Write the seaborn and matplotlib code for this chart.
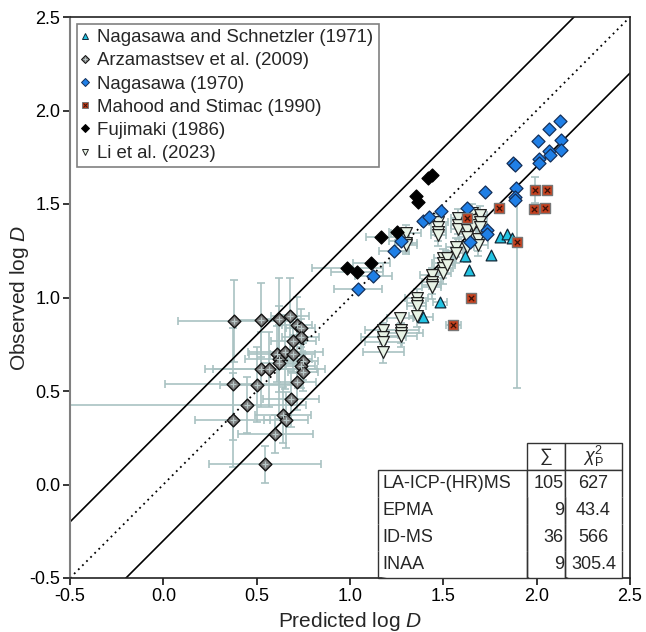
import numpy as np
import pandas as pd
import matplotlib
matplotlib.use('Agg')
import matplotlib.pyplot as plt
import seaborn as sns
from matplotlib.lines import Line2D

# ---------------- data ----------------
# Nagasawa and Schnetzler (1971)
ns_x = [1.803, 1.839, 1.867, 1.616, 1.755, 1.639, 1.482, 1.392]
ns_y = [1.322, 1.340, 1.317, 1.222, 1.227, 1.147, 0.976, 0.897]
ns_xerr = [0.0, 0.0, 0.0, 0.0, 0.0, 0.0, 0.04, 0.05]

# Arzamastsev et al. (2009)
az_x = [0.378, 0.521, 0.618, 0.678, 0.714, 0.735, 0.735, 0.696, 0.610, 0.653,
        0.693, 0.618, 0.621, 0.750, 0.735, 0.750, 0.521, 0.564, 0.371, 0.503,
        0.717, 0.685, 0.446, 0.371, 0.643, 0.657, 0.600, 0.544]
az_y = [0.876, 0.880, 0.885, 0.903, 0.851, 0.837, 0.787, 0.765, 0.698, 0.709,
        0.698, 0.673, 0.652, 0.659, 0.634, 0.602, 0.616, 0.616, 0.537, 0.534,
        0.548, 0.459, 0.423, 0.345, 0.373, 0.345, 0.270, 0.108]
az_xerr_lo = [0.30, 0.13, 0.10, 0.10, 0.08, 0.08, 0.10, 0.12, 0.15, 0.20,
              0.12, 0.18, 0.10, 0.08, 0.08, 0.08, 0.30, 0.30, 0.36, 0.20,
              0.10, 0.15, 1.20, 0.20, 0.15, 0.12, 0.20, 0.30]
az_xerr_hi = [0.30, 0.13, 0.10, 0.10, 0.08, 0.08, 0.10, 0.12, 0.15, 0.20,
              0.12, 0.18, 0.10, 0.08, 0.08, 0.08, 0.30, 0.30, 0.36, 0.20,
              0.10, 0.15, 0.32, 0.20, 0.15, 0.12, 0.20, 0.30]
az_yerr = [0.22, 0.20, 0.22, 0.20, 0.15, 0.10, 0.10, 0.12, 0.15, 0.20,
           0.10, 0.18, 0.30, 0.10, 0.12, 0.10, 0.20, 0.20, 0.30, 0.20,
           0.15, 0.15, 0.15, 0.25, 0.15, 0.15, 0.10, 0.10]

# Nagasawa (1970)
n70_x = [1.044, 1.125, 1.235, 1.271, 1.389, 1.424, 1.489, 1.625, 1.642, 1.724,
         1.732, 1.736, 1.875, 1.884, 1.890, 1.884, 1.884, 2.011, 2.011, 2.008,
         2.066, 2.125, 2.130, 2.130, 2.068, 2.071]
n70_y = [1.044, 1.117, 1.250, 1.300, 1.407, 1.432, 1.462, 1.480, 1.295, 1.563,
         1.363, 1.340, 1.721, 1.709, 1.587, 1.539, 1.521, 1.741, 1.718, 1.835,
         1.903, 1.945, 1.842, 1.789, 1.785, 1.762]
n70_xerr = [0.13, 0.10, 0.08, 0.06, 0.0, 0.0, 0.0, 0.0, 0.0, 0.0,
            0.0, 0.0, 0.0, 0.0, 0.0, 0.0, 0.0, 0.0, 0.0, 0.0,
            0.0, 0.0, 0.0, 0.0, 0.0, 0.0]

# Mahood and Stimac (1990)
ms_x = [1.991, 2.053, 1.985, 2.046, 1.800, 1.625, 1.893, 1.648, 1.553]
ms_y = [1.575, 1.575, 1.475, 1.480, 1.480, 1.424, 1.298, 0.997, 0.851]
ms_xerr = [0.0, 0.0, 0.0, 0.0, 0.0, 0.0, 0.0, 0.0, 0.04]
ms_yerr_lo = [0.07, 0.0, 0.0, 0.0, 0.0, 0.0, 0.78, 0.0, 0.0]
ms_yerr_hi = [0.07, 0.0, 0.0, 0.0, 0.0, 0.0, 0.22, 0.0, 0.0]

# Fujimaki (1986)
fu_x = [0.985, 1.039, 1.114, 1.164, 1.250, 1.353, 1.362, 1.419, 1.437]
fu_y = [1.156, 1.136, 1.183, 1.322, 1.352, 1.544, 1.512, 1.641, 1.655]
fu_xerr = [0.19, 0.14, 0.10, 0.08, 0.04, 0.0, 0.0, 0.0, 0.0]

# Li et al. (2023)
li_x = [1.178, 1.178, 1.178, 1.178, 1.268, 1.271, 1.271, 1.271, 1.300, 1.300,
        1.300, 1.357, 1.357, 1.357, 1.357, 1.437, 1.437, 1.437, 1.437, 1.473,
        1.473, 1.473, 1.473, 1.500, 1.500, 1.500, 1.500, 1.521, 1.521, 1.566,
        1.566, 1.580, 1.580, 1.580, 1.625, 1.625, 1.625, 1.652, 1.657, 1.657,
        1.696, 1.696, 1.696, 1.687, 1.687]
li_y = [0.826, 0.790, 0.764, 0.710, 0.889, 0.826, 0.808, 0.794, 1.347, 1.293,
        1.281, 0.996, 0.972, 0.955, 0.903, 1.120, 1.084, 1.067, 1.054, 1.405,
        1.379, 1.352, 1.334, 1.210, 1.183, 1.156, 1.133, 1.210, 1.174, 1.268,
        1.236, 1.424, 1.388, 1.365, 1.361, 1.325, 1.272, 1.452, 1.414, 1.388,
        1.441, 1.405, 1.379, 1.311, 1.281]
li_xerr = [0.10, 0.12, 0.10, 0.11, 0.07, 0.10, 0.12, 0.09, 0.08, 0.06,
           0.06, 0.06, 0.05, 0.05, 0.04, 0.06, 0.05, 0.05, 0.05, 0.05,
           0.04, 0.04, 0.04, 0.05, 0.06, 0.05, 0.04, 0.04, 0.04, 0.05,
           0.04, 0.04, 0.04, 0.04, 0.05, 0.04, 0.04, 0.04, 0.04, 0.04,
           0.04, 0.04, 0.04, 0.05, 0.05]
li_yerr = [0.04, 0.04, 0.05, 0.06, 0.03, 0.04, 0.05, 0.06, 0.04, 0.05,
           0.05, 0.05, 0.05, 0.05, 0.06, 0.04, 0.04, 0.05, 0.06, 0.04,
           0.05, 0.05, 0.06, 0.05, 0.05, 0.05, 0.06, 0.04, 0.05, 0.05,
           0.05, 0.05, 0.05, 0.05, 0.06, 0.06, 0.08, 0.05, 0.05, 0.05,
           0.05, 0.05, 0.05, 0.06, 0.06]

legend_labels = ['Nagasawa and Schnetzler (1971)', 'Arzamastsev et al. (2009)',
                 'Nagasawa (1970)', 'Mahood and Stimac (1990)', 'Fujimaki (1986)',
                 'Li et al. (2023)']

table_methods = ['LA-ICP-(HR)MS', 'EPMA', 'ID-MS', 'INAA']
table_n = ['105', '9', '36', '9']
table_chi = ['627', '43.4', '566', '305.4']

# ---------------- style ----------------
sns.set_style('ticks')
plt.rcParams['font.family'] = ['Liberation Sans', 'DejaVu Sans']
plt.rcParams['mathtext.fontset'] = 'custom'
plt.rcParams['mathtext.rm'] = 'Liberation Sans'
plt.rcParams['mathtext.it'] = 'Liberation Sans:italic'

fig = plt.figure(figsize=(6.46, 6.32), dpi=100)
ax = fig.add_axes([70 / 646, (632 - 578) / 632, 560 / 646, 561 / 632])

ECOL = '#a9c2c2'
ekw = dict(fmt='none', ecolor=ECOL, elinewidth=1.2, capsize=3, capthick=1.2, zorder=1)

# reference lines (1:1 and +/-0.3 log units)
ref = np.array([-0.5, 2.5])
ax.plot(ref, ref, color='black', lw=1.3, ls=(0, (1, 2.2)), zorder=2)
ax.plot(ref, ref + 0.3, color='black', lw=1.2, zorder=2)
ax.plot(ref, ref - 0.3, color='black', lw=1.2, zorder=2)

# error bars
ax.errorbar(az_x, az_y, xerr=[az_xerr_lo, az_xerr_hi], yerr=az_yerr, **ekw)
ax.errorbar(li_x, li_y, xerr=li_xerr, yerr=li_yerr, **ekw)
ax.errorbar(n70_x, n70_y, xerr=n70_xerr, **ekw)
ax.errorbar(fu_x, fu_y, xerr=fu_xerr, **ekw)
ax.errorbar(ns_x, ns_y, xerr=ns_xerr, **ekw)
ax.errorbar(ms_x, ms_y, xerr=ms_xerr, yerr=[ms_yerr_lo, ms_yerr_hi], **ekw)

# markers
C_NS = '#22c3e3'
C_AZ = '#7c7c7c'
C_N70 = '#1f7fe6'
C_MS = '#c43f1c'
C_FU = '#000000'
C_LI = '#e8f3e6'

sns.scatterplot(x=az_x, y=az_y, marker='D', s=42, color=C_AZ, edgecolor='#111111',
                linewidth=1.0, ax=ax, zorder=3)
sns.scatterplot(x=az_x, y=az_y, marker='+', s=22, color='#b9c9c9', linewidth=0.9,
                ax=ax, zorder=3.1)
sns.scatterplot(x=li_x, y=li_y, marker='v', s=72, color=C_LI, edgecolor='#222222',
                linewidth=0.9, ax=ax, zorder=3)
sns.scatterplot(x=n70_x, y=n70_y, marker='D', s=44, color=C_N70, edgecolor='#14305a',
                linewidth=0.9, ax=ax, zorder=4)
sns.scatterplot(x=fu_x, y=fu_y, marker='D', s=44, color=C_FU, edgecolor='#000000',
                linewidth=0.9, ax=ax, zorder=4)
sns.scatterplot(x=ns_x, y=ns_y, marker='^', s=60, color=C_NS, edgecolor='#102838',
                linewidth=0.9, ax=ax, zorder=4)
sns.scatterplot(x=ms_x, y=ms_y, marker='s', s=55, color=C_MS, edgecolor='#777777',
                linewidth=1.0, ax=ax, zorder=4)
sns.scatterplot(x=ms_x, y=ms_y, marker='x', s=14, color='#3a120a', linewidth=0.9,
                ax=ax, zorder=4.1)

ax.set_xlim(-0.5, 2.5)
ax.set_ylim(-0.5, 2.5)
ticks = np.arange(-0.5, 2.51, 0.5)
ax.set_xticks(ticks)
ax.set_yticks(ticks)
ax.set_xticklabels([f'{t:.1f}' for t in ticks])
ax.set_yticklabels([f'{t:.1f}' for t in ticks])
ax.tick_params(axis='both', direction='out', length=5, width=1.1, labelsize=13,
               colors='#000000', pad=2)
for side in ['top', 'right', 'bottom']:
    ax.spines[side].set_color('#222222')
    ax.spines[side].set_linewidth(1.2)
    ax.spines[side].set_visible(True)
ax.spines['left'].set_color('#808080')
ax.spines['left'].set_linewidth(1.5)

ax.set_xlabel('Predicted log $\\mathit{D}$', fontsize=15, labelpad=4)
ax.set_ylabel('Observed log $\\mathit{D}$', fontsize=15, labelpad=-1)

# legend
handles = [
    Line2D([], [], ls='none', marker='^', ms=5, mfc=C_NS, mec='#102838', mew=0.7),
    (Line2D([], [], ls='none', marker='D', ms=4.5, mfc=C_AZ, mec='#111111', mew=0.7),
     Line2D([], [], ls='none', marker='+', ms=3.5, mec='#b9c9c9', mew=0.7)),
    Line2D([], [], ls='none', marker='D', ms=4.5, mfc=C_N70, mec='#14305a', mew=0.7),
    (Line2D([], [], ls='none', marker='s', ms=5, mfc=C_MS, mec='#777777', mew=0.7),
     Line2D([], [], ls='none', marker='x', ms=2.5, mec='#3a120a', mew=0.7)),
    Line2D([], [], ls='none', marker='D', ms=4.5, mfc=C_FU, mec='#000000', mew=0.7),
    Line2D([], [], ls='none', marker='v', ms=5, mfc=C_LI, mec='#222222', mew=0.7),
]
leg = ax.legend(handles, legend_labels, loc='upper left', fontsize=13.4,
                frameon=True, fancybox=False, shadow=False, framealpha=1,
                borderaxespad=0.38, borderpad=0.28, labelspacing=0.33,
                handlelength=0.25, handletextpad=0.55)
leg.get_frame().set_edgecolor('#808080')
leg.get_frame().set_linewidth(1.2)

# table
cell_text = [['', '\u2211', r'$\chi^2_{\mathrm{P}}$']]
for m, n, c in zip(table_methods, table_n, table_chi):
    cell_text.append([m, n, c])
t_left, t_right = 378, 622
t_w = t_right - t_left
tbl = ax.table(cellText=cell_text,
               colWidths=[(527 - t_left) / t_w, 38 / t_w, (t_right - 565) / t_w],
               bbox=[(t_left - 70) / 560, 0.0, t_w / 560, 135 / 561],
               cellLoc='center', zorder=6)
tbl.auto_set_font_size(False)
tbl.set_fontsize(13)
nrows = len(cell_text)
for (r, c), cell in tbl.get_celld().items():
    cell.set_linewidth(1.0)
    cell.set_edgecolor('#333333')
    cell.set_facecolor('white')
    cell.PAD = 0.03
    if r == 0:
        cell.visible_edges = '' if c == 0 else 'LTRB'
        if c == 0:
            cell.set_facecolor('none')
    else:
        e = 'LR'
        if r == 1:
            e += 'T'
        if r == nrows - 1:
            e += 'B'
        cell.visible_edges = e
        if c == 0:
            cell.get_text().set_ha('left')
            cell._loc = 'left'
        elif c == 1:
            cell.get_text().set_ha('right')
            cell._loc = 'right'

fig.savefig('out.png', dpi=100)
